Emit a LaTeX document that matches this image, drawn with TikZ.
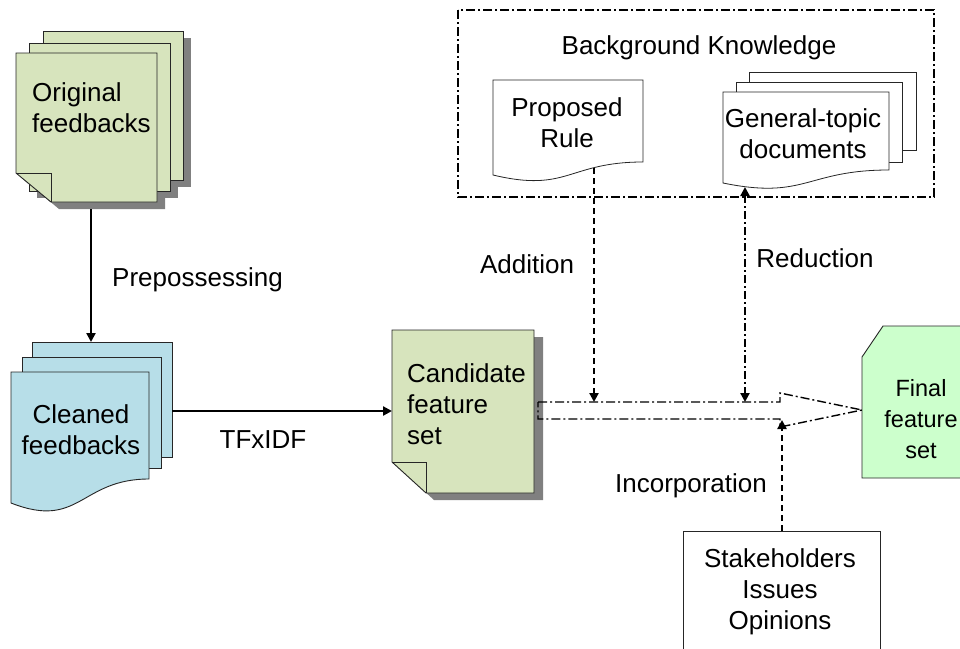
\documentclass[tikz,border=0pt]{standalone}
\usepackage{fontspec}
\setmainfont{Liberation Sans}
\usetikzlibrary{arrows.meta}
\definecolor{leaf}{HTML}{D7E4BD}
\definecolor{ice}{HTML}{B7DEE8}
\definecolor{mint}{HTML}{CCFFCC}
\definecolor{shade}{HTML}{808080}
\tikzset{
  sheet/.style={draw=black!85, line width=0.9pt},
  shadowfill/.style={fill=shade, draw=none},
  lbl/.style={inner sep=0pt, font=\fontsize{26}{31}\selectfont},
  smalllbl/.style={inner sep=0pt, font=\fontsize{23.5}{31}\selectfont},
  solidflow/.style={line width=2.5pt, -{Triangle[length=9pt,width=9pt]}},
  addflow/.style={line width=2.3pt, dash pattern=on 6pt off 4pt, -{Triangle[length=9pt,width=9pt]}},
  redflow/.style={line width=2.3pt, dash pattern=on 8pt off 3pt on 2pt off 3pt,
                  {Triangle[length=9pt,width=9pt]}-{Triangle[length=9pt,width=9pt]}},
  dashdot/.style={dash pattern=on 9pt off 3pt on 2pt off 3pt},
}
\begin{document}
\begin{tikzpicture}[x=1pt,y=-1pt]
\useasboundingbox (0,0) rectangle (960,648);
\clip (0,0) rectangle (960,648);
\fill[white] (0,0) rectangle (960,648);

% ---------- Original feedbacks (stacked sticky notes with shadow) ----------
\fill[shadowfill] (51,38) rectangle (191,187);
\fill[shadowfill] (37,50) rectangle (178,198);
\fill[shadowfill] (24,60) -- (165,60) -- (165,209) -- (59,209) -- (24,180) -- cycle;
\filldraw[sheet, fill=leaf] (43,31) rectangle (183,180);
\filldraw[sheet, fill=leaf] (29,43) rectangle (170,191);
\filldraw[sheet, fill=leaf] (16,53) -- (157,53) -- (157,202) -- (51,202) -- (16,173) -- cycle;
\draw[sheet] (16,173) -- (51,173) -- (51,202);
\node[lbl, anchor=west, align=left] (orig) at (32,108) {Original\\feedbacks};

% ---------- Cleaned feedbacks (multi-document) ----------
\filldraw[sheet, fill=ice] (32,342) rectangle (172,457);
\filldraw[sheet, fill=ice] (22,357) rectangle (161,468);
\filldraw[sheet, fill=ice] (11,372) -- (149,372) -- (149,479)
  .. controls (80,479) and (80,530) .. (11,503) -- cycle;
\node[lbl, align=center] (clean) at (81,430) {Cleaned\\feedbacks};

% ---------- Candidate feature set ----------
\fill[shadowfill] (400,337) -- (543,337) -- (543,500) -- (434,500) -- (400,469) -- cycle;
\filldraw[sheet, fill=leaf] (392,330) -- (534,330) -- (534,493) -- (426,493) -- (392,462) -- cycle;
\draw[sheet] (392,462) -- (426,462) -- (426,493);
\node[lbl, anchor=west, align=left] (cand) at (407,404) {Candidate\\feature\\set};

% ---------- Background knowledge group ----------
\draw[line width=1.8pt, dashdot] (458,10) rectangle (934,197);
\node[lbl] (bgk) at (699,48) {Background Knowledge};

\filldraw[sheet, line width=0.8pt, fill=white] (493,80) -- (643,80) -- (643,162)
  .. controls (568,162) and (568,193) .. (493,175) -- cycle;
\node[lbl, align=center] (rule) at (567,123) {Proposed\\Rule};

\filldraw[sheet, line width=0.8pt, fill=white] (749,72) rectangle (916,150);
\filldraw[sheet, line width=0.8pt, fill=white] (736,82) rectangle (902,162);
\filldraw[sheet, line width=0.8pt, fill=white] (723,92) -- (889,92) -- (889,170)
  .. controls (806,170) and (806,200) .. (723,183) -- cycle;
\node[lbl, align=center] (gtd) at (803,134) {General-topic\\documents};

% ---------- Final feature set ----------
\filldraw[sheet, fill=mint] (975,478) -- (862,478) -- (862,357) -- (883,326) -- (975,326);
\node[smalllbl, align=center] (final) at (921,419) {Final\\feature\\set};

% ---------- Stakeholders box ----------
\draw[sheet, line width=0.8pt] (683,660) -- (683,531) -- (880,531) -- (880,660);
\node[lbl, align=center] (stake) at (780,592) {Stakeholders\\Issues\\Opinions};

% ---------- Hollow block arrow towards the final set ----------
\draw[line width=1.4pt, dashdot, line join=miter]
  (538,402) -- (780,402) -- (780,393) -- (862,410) -- (780,427) -- (780,419) -- (538,419) -- cycle;

% ---------- connector end points ----------
\coordinate (origOut) at (91,209);
\coordinate (cleanIn) at (91,342);
\coordinate (cleanOut) at (172,411);
\coordinate (candIn) at (392,411);
\coordinate (ruleOut) at (594,168);
\coordinate (addIn) at (594,402);
\coordinate (gtdOut) at (745,187);
\coordinate (redIn) at (745,402);
\coordinate (stakeOut) at (782,531);
\coordinate (incIn) at (782,420);

% ---------- connectors ----------
\draw[solidflow] (origOut) -- (cleanIn);
\draw[solidflow] (cleanOut) -- (candIn);
\draw[addflow] (ruleOut) -- (addIn);
\draw[redflow] (gtdOut) -- (redIn);
\draw[addflow] (stakeOut) -- (incIn);

% ---------- connector labels ----------
\node[lbl, anchor=west] (prep) at (112,280) {Prepossessing};
\node[lbl] (tfidf) at (263,440) {TFxIDF};
\node[lbl] (addl) at (527,264) {Addition};
\node[lbl] (redl) at (815,258) {Reduction};
\node[lbl] (incl) at (691,486) {Incorporation};
\end{tikzpicture}
\end{document}
